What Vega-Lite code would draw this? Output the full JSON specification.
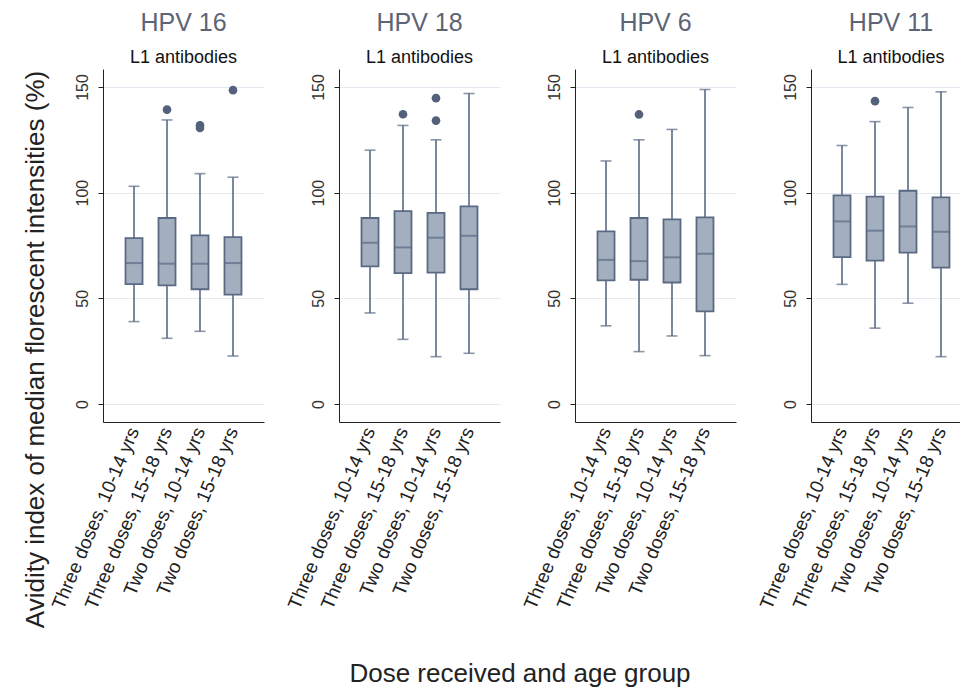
{
  "$schema": "https://vega.github.io/schema/vega-lite/v6.json",
  "background": "white",
  "padding": {"left": 21, "top": 11, "right": 0, "bottom": 0},
  "bounds": "flush",
  "datasets": {
    "boxes": [
      {"hpv": "HPV 16", "group": "Three doses, 10-14 yrs", "lower": 39.0, "q1": 56.7, "median": 66.7, "q3": 78.5, "upper": 103.0},
      {"hpv": "HPV 16", "group": "Three doses, 15-18 yrs", "lower": 31.1, "q1": 56.1, "median": 66.4, "q3": 88.0, "upper": 134.4},
      {"hpv": "HPV 16", "group": "Two doses, 10-14 yrs", "lower": 34.4, "q1": 54.3, "median": 66.4, "q3": 79.8, "upper": 109.0},
      {"hpv": "HPV 16", "group": "Two doses, 15-18 yrs", "lower": 22.7, "q1": 51.8, "median": 66.7, "q3": 79.0, "upper": 107.3},
      {"hpv": "HPV 18", "group": "Three doses, 10-14 yrs", "lower": 43.1, "q1": 65.1, "median": 76.3, "q3": 88.0, "upper": 120.1},
      {"hpv": "HPV 18", "group": "Three doses, 15-18 yrs", "lower": 30.6, "q1": 61.9, "median": 74.1, "q3": 91.3, "upper": 131.8},
      {"hpv": "HPV 18", "group": "Two doses, 10-14 yrs", "lower": 22.4, "q1": 62.2, "median": 78.7, "q3": 90.4, "upper": 125.0},
      {"hpv": "HPV 18", "group": "Two doses, 15-18 yrs", "lower": 24.0, "q1": 54.3, "median": 79.6, "q3": 93.5, "upper": 146.9},
      {"hpv": "HPV 6", "group": "Three doses, 10-14 yrs", "lower": 37.0, "q1": 58.5, "median": 68.2, "q3": 81.7, "upper": 115.0},
      {"hpv": "HPV 6", "group": "Three doses, 15-18 yrs", "lower": 24.8, "q1": 58.8, "median": 67.6, "q3": 88.0, "upper": 125.0},
      {"hpv": "HPV 6", "group": "Two doses, 10-14 yrs", "lower": 32.2, "q1": 57.5, "median": 69.4, "q3": 87.4, "upper": 129.9},
      {"hpv": "HPV 6", "group": "Two doses, 15-18 yrs", "lower": 22.9, "q1": 43.8, "median": 71.1, "q3": 88.3, "upper": 148.8},
      {"hpv": "HPV 11", "group": "Three doses, 10-14 yrs", "lower": 56.6, "q1": 69.5, "median": 86.4, "q3": 98.7, "upper": 122.3},
      {"hpv": "HPV 11", "group": "Three doses, 15-18 yrs", "lower": 35.9, "q1": 67.8, "median": 82.0, "q3": 98.1, "upper": 133.6},
      {"hpv": "HPV 11", "group": "Two doses, 10-14 yrs", "lower": 47.7, "q1": 71.6, "median": 84.0, "q3": 100.9, "upper": 140.3},
      {"hpv": "HPV 11", "group": "Two doses, 15-18 yrs", "lower": 22.4, "q1": 64.5, "median": 81.5, "q3": 97.8, "upper": 147.7}
    ],
    "outliers": [
      {"hpv": "HPV 16", "group": "Three doses, 15-18 yrs", "value": 139.3},
      {"hpv": "HPV 16", "group": "Two doses, 10-14 yrs", "value": 131.9},
      {"hpv": "HPV 16", "group": "Two doses, 10-14 yrs", "value": 130.6},
      {"hpv": "HPV 16", "group": "Two doses, 15-18 yrs", "value": 148.5},
      {"hpv": "HPV 18", "group": "Three doses, 15-18 yrs", "value": 137.1},
      {"hpv": "HPV 18", "group": "Two doses, 10-14 yrs", "value": 144.7},
      {"hpv": "HPV 18", "group": "Two doses, 10-14 yrs", "value": 134.1},
      {"hpv": "HPV 6", "group": "Three doses, 15-18 yrs", "value": 137.0},
      {"hpv": "HPV 11", "group": "Three doses, 15-18 yrs", "value": 143.3}
    ]
  },
  "title": {
    "text": "Dose received and age group",
    "orient": "bottom",
    "anchor": "middle",
    "frame": "bounds",
    "fontSize": 26,
    "color": "#222222",
    "fontWeight": "normal",
    "offset": 33,
    "dx": 23
  },
  "spacing": 75,
  "hconcat": [
    {
      "width": 161, "height": 353,
      "title": {"text": "HPV 16", "subtitle": "L1 antibodies"},
      "data": {"name": "boxes"},
      "transform": [{"filter": "datum.hpv === 'HPV 16'"}],
      "encoding": {
        "x": {"field": "group", "type": "nominal", "sort": ["Three doses, 10-14 yrs", "Three doses, 15-18 yrs", "Two doses, 10-14 yrs", "Two doses, 15-18 yrs"], "scale": {"paddingInner": 0, "paddingOuter": 0.44}, "axis": {"title": null}}
      },
      "layer": [
        {"mark": {"type": "rule", "color": "#5a6a84", "strokeWidth": 1.6},
         "encoding": {"y": {"field": "lower", "type": "quantitative", "scale": {"domain": [-8.5, 158.5], "nice": false, "zero": false}, "axis": {"values": [0, 50, 100, 150], "title": "Avidity index of median florescent intensities (%)", "titleFontSize": 26, "titlePadding": 26, "titleY": 280}}, "y2": {"field": "upper"}}},
        {"mark": {"type": "tick", "color": "#5a6a84", "size": 11, "thickness": 1.6}, "encoding": {"y": {"field": "lower", "type": "quantitative"}}},
        {"mark": {"type": "tick", "color": "#5a6a84", "size": 11, "thickness": 1.6}, "encoding": {"y": {"field": "upper", "type": "quantitative"}}},
        {"mark": {"type": "bar", "size": 17, "fill": "#a3aebf", "stroke": "#5a6a84", "strokeWidth": 1.8}, "encoding": {"y": {"field": "q1", "type": "quantitative"}, "y2": {"field": "q3"}}},
        {"mark": {"type": "tick", "color": "#5a6a84", "size": 17, "thickness": 2}, "encoding": {"y": {"field": "median", "type": "quantitative"}}},
        {"data": {"name": "outliers"}, "transform": [{"filter": "datum.hpv === 'HPV 16'"}],
         "mark": {"type": "circle", "size": 75, "color": "#53627a", "opacity": 1}, "encoding": {"y": {"field": "value", "type": "quantitative"}}}
      ]
    },
    {
      "width": 161, "height": 353,
      "title": {"text": "HPV 18", "subtitle": "L1 antibodies"},
      "data": {"name": "boxes"},
      "transform": [{"filter": "datum.hpv === 'HPV 18'"}],
      "encoding": {
        "x": {"field": "group", "type": "nominal", "sort": ["Three doses, 10-14 yrs", "Three doses, 15-18 yrs", "Two doses, 10-14 yrs", "Two doses, 15-18 yrs"], "scale": {"paddingInner": 0, "paddingOuter": 0.44}, "axis": {"title": null}}
      },
      "layer": [
        {"mark": {"type": "rule", "color": "#5a6a84", "strokeWidth": 1.6},
         "encoding": {"y": {"field": "lower", "type": "quantitative", "scale": {"domain": [-8.5, 158.5], "nice": false, "zero": false}, "axis": {"values": [0, 50, 100, 150], "title": null}}, "y2": {"field": "upper"}}},
        {"mark": {"type": "tick", "color": "#5a6a84", "size": 11, "thickness": 1.6}, "encoding": {"y": {"field": "lower", "type": "quantitative"}}},
        {"mark": {"type": "tick", "color": "#5a6a84", "size": 11, "thickness": 1.6}, "encoding": {"y": {"field": "upper", "type": "quantitative"}}},
        {"mark": {"type": "bar", "size": 17, "fill": "#a3aebf", "stroke": "#5a6a84", "strokeWidth": 1.8}, "encoding": {"y": {"field": "q1", "type": "quantitative"}, "y2": {"field": "q3"}}},
        {"mark": {"type": "tick", "color": "#5a6a84", "size": 17, "thickness": 2}, "encoding": {"y": {"field": "median", "type": "quantitative"}}},
        {"data": {"name": "outliers"}, "transform": [{"filter": "datum.hpv === 'HPV 18'"}],
         "mark": {"type": "circle", "size": 75, "color": "#53627a", "opacity": 1}, "encoding": {"y": {"field": "value", "type": "quantitative"}}}
      ]
    },
    {
      "width": 161, "height": 353,
      "title": {"text": "HPV 6", "subtitle": "L1 antibodies"},
      "data": {"name": "boxes"},
      "transform": [{"filter": "datum.hpv === 'HPV 6'"}],
      "encoding": {
        "x": {"field": "group", "type": "nominal", "sort": ["Three doses, 10-14 yrs", "Three doses, 15-18 yrs", "Two doses, 10-14 yrs", "Two doses, 15-18 yrs"], "scale": {"paddingInner": 0, "paddingOuter": 0.44}, "axis": {"title": null}}
      },
      "layer": [
        {"mark": {"type": "rule", "color": "#5a6a84", "strokeWidth": 1.6},
         "encoding": {"y": {"field": "lower", "type": "quantitative", "scale": {"domain": [-8.5, 158.5], "nice": false, "zero": false}, "axis": {"values": [0, 50, 100, 150], "title": null}}, "y2": {"field": "upper"}}},
        {"mark": {"type": "tick", "color": "#5a6a84", "size": 11, "thickness": 1.6}, "encoding": {"y": {"field": "lower", "type": "quantitative"}}},
        {"mark": {"type": "tick", "color": "#5a6a84", "size": 11, "thickness": 1.6}, "encoding": {"y": {"field": "upper", "type": "quantitative"}}},
        {"mark": {"type": "bar", "size": 17, "fill": "#a3aebf", "stroke": "#5a6a84", "strokeWidth": 1.8}, "encoding": {"y": {"field": "q1", "type": "quantitative"}, "y2": {"field": "q3"}}},
        {"mark": {"type": "tick", "color": "#5a6a84", "size": 17, "thickness": 2}, "encoding": {"y": {"field": "median", "type": "quantitative"}}},
        {"data": {"name": "outliers"}, "transform": [{"filter": "datum.hpv === 'HPV 6'"}],
         "mark": {"type": "circle", "size": 75, "color": "#53627a", "opacity": 1}, "encoding": {"y": {"field": "value", "type": "quantitative"}}}
      ]
    },
    {
      "width": 150, "height": 353,
      "title": {"text": "HPV 11", "subtitle": "L1 antibodies", "dx": 5},
      "data": {"name": "boxes"},
      "transform": [{"filter": "datum.hpv === 'HPV 11'"}],
      "encoding": {
        "x": {"field": "group", "type": "nominal", "sort": ["Three doses, 10-14 yrs", "Three doses, 15-18 yrs", "Two doses, 10-14 yrs", "Two doses, 15-18 yrs"], "scale": {"paddingInner": 0, "paddingOuter": 0.44, "range": [0, 161]}, "axis": {"title": null}}
      },
      "layer": [
        {"mark": {"type": "rule", "color": "#5a6a84", "strokeWidth": 1.6},
         "encoding": {"y": {"field": "lower", "type": "quantitative", "scale": {"domain": [-8.5, 158.5], "nice": false, "zero": false}, "axis": {"values": [0, 50, 100, 150], "title": null}}, "y2": {"field": "upper"}}},
        {"mark": {"type": "tick", "color": "#5a6a84", "size": 11, "thickness": 1.6}, "encoding": {"y": {"field": "lower", "type": "quantitative"}}},
        {"mark": {"type": "tick", "color": "#5a6a84", "size": 11, "thickness": 1.6}, "encoding": {"y": {"field": "upper", "type": "quantitative"}}},
        {"mark": {"type": "bar", "size": 17, "fill": "#a3aebf", "stroke": "#5a6a84", "strokeWidth": 1.8}, "encoding": {"y": {"field": "q1", "type": "quantitative"}, "y2": {"field": "q3"}}},
        {"mark": {"type": "tick", "color": "#5a6a84", "size": 17, "thickness": 2}, "encoding": {"y": {"field": "median", "type": "quantitative"}}},
        {"data": {"name": "outliers"}, "transform": [{"filter": "datum.hpv === 'HPV 11'"}],
         "mark": {"type": "circle", "size": 75, "color": "#53627a", "opacity": 1}, "encoding": {"y": {"field": "value", "type": "quantitative"}}}
      ]
    }
  ],
  "config": {
    "font": "Liberation Sans",
    "view": {"stroke": null},
    "title": {"fontSize": 25, "color": "#5d6475", "fontWeight": "normal", "subtitleFontSize": 18, "subtitleColor": "#111111", "subtitlePadding": 13, "offset": 2, "anchor": "middle", "frame": "group"},
    "axisX": {"labelAngle": -67, "labelAlign": "right", "labelBaseline": "middle", "ticks": false, "domainColor": "#222222", "labelFontSize": 19, "labelPadding": 6, "labelColor": "#222222", "labelLimit": 400, "grid": false},
    "axisY": {"grid": true, "gridColor": "#e3eaf1", "gridWidth": 1.2, "labelAngle": -90, "labelAlign": "center", "labelBaseline": "bottom", "tickSize": 5, "domainColor": "#222222", "tickColor": "#222222", "labelFontSize": 16, "labelPadding": 8, "labelColor": "#333333", "titleFontWeight": "normal", "titleColor": "#222222"}
  }
}
